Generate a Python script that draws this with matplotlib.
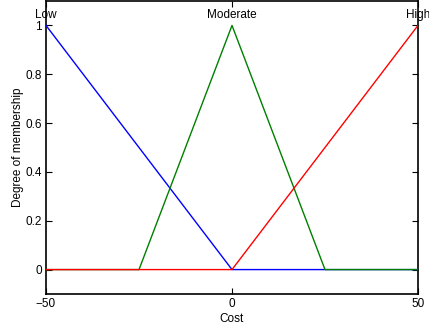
import matplotlib.pyplot as plt

plt.rcParams['font.family'] = ['Liberation Sans', 'DejaVu Sans']

# membership function breakpoints
low_x = [-50, 0, 50]
low_y = [1, 0, 0]
mod_x = [-50, -25, 0, 25, 50]
mod_y = [0, 0, 1, 0, 0]
high_x = [-50, 0, 50]
high_y = [0, 0, 1]
mf_names = ["Low", "Moderate", "High"]
mf_peaks = [-50, 0, 50]

fig = plt.figure(figsize=(4.29, 3.32), dpi=100)
ax = fig.add_axes([46 / 429, 1 - 294 / 332, 372 / 429, 293 / 332])

ax.plot(low_x, low_y, color="blue", lw=1, zorder=3)
ax.plot(mod_x, mod_y, color="green", lw=1, zorder=3)
ax.plot(high_x, high_y, color="red", lw=1, zorder=3)

for name, px in zip(mf_names, mf_peaks):
    ax.text(px, 1.018, name, ha="center", va="bottom", fontsize=8.5)

ax.set_xlim(-50, 50)
ax.set_ylim(-0.1, 1.1)
ax.set_xticks([-50, 0, 50])
ax.set_xticklabels(["\u221250", "0", "50"])
ax.set_yticks([0, 0.2, 0.4, 0.6, 0.8, 1])
ax.set_yticklabels(["0", "0.2", "0.4", "0.6", "0.8", "1"])
ax.tick_params(direction="in", top=True, right=True, labelsize=8.5, length=4, width=0.8, pad=3)
for s in ax.spines.values():
    s.set_linewidth(1.2)
ax.set_xlabel("Cost", fontsize=8.5, labelpad=2)
ax.set_ylabel("Degree of membership", fontsize=8.5, labelpad=1)

fig.savefig("out.png", dpi=100)
